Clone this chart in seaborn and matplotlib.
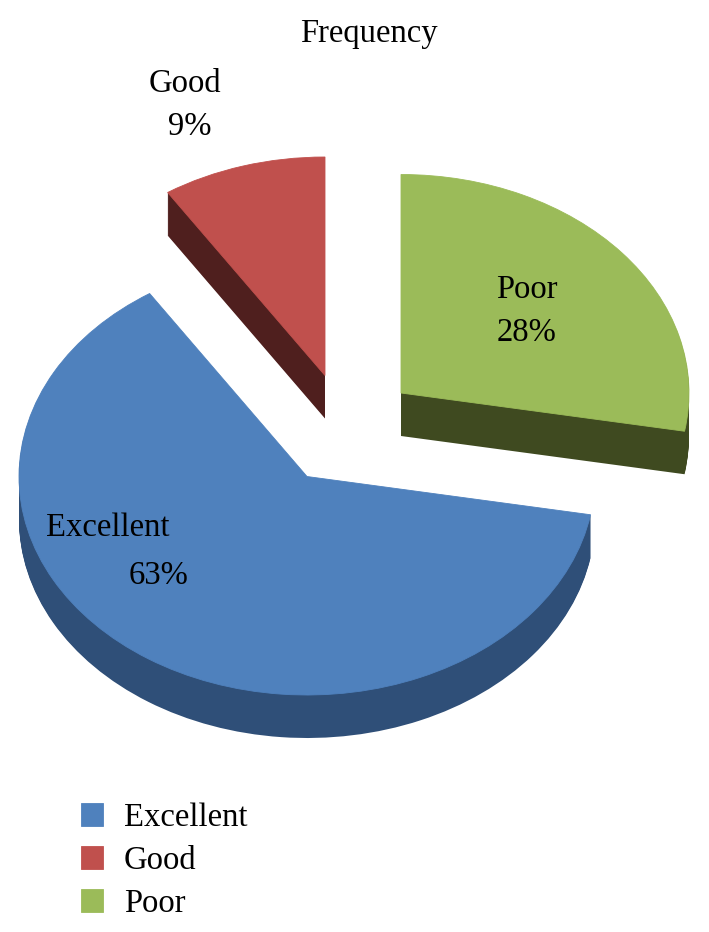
import matplotlib
matplotlib.use("Agg")
import matplotlib.pyplot as plt
import seaborn as sns

categories = ["Excellent", "Good", "Poor"]
percent = [63.0, 9.2, 27.8]
title = "Frequency"

top_colors = ["#4F81BD", "#C0504D", "#9BBB59"]
wall_colors = ["#2F4F78", "#4F1F1E", "#3F4A20"]

W, H = 709, 932
RX, RY = 288.0, 218.5
centers_px = [(307, 476.5), (325, 375.5), (401, 393)]
DEPTH = 43
FIRST_START = 90 - percent[2] * 3.6

sns.set_theme(style="white")
plt.rcParams["font.family"] = ["Liberation Serif", "DejaVu Serif"]
FS = 23.5

fig = plt.figure(figsize=(W / 100, H / 100), dpi=100)
ax = fig.add_axes([0, 0, 1, 1])

def X(px):
    return px / RX

def Y(py):
    return -py / RY

handles = []
start = FIRST_START
for cat, pct, top, wall, (cx, cy) in zip(categories, percent, top_colors, wall_colors, centers_px):
    for d in range(DEPTH, 0, -1):
        ax.pie([pct / 100], normalize=False, startangle=start, counterclock=False,
               center=(X(cx), Y(cy + d)), radius=1, colors=[wall],
               wedgeprops=dict(linewidth=0))
    w, _ = ax.pie([pct / 100], normalize=False, startangle=start, counterclock=False,
                  center=(X(cx), Y(cy)), radius=1, colors=[top],
                  wedgeprops=dict(linewidth=0.6, edgecolor=top))
    handles.append(w[0])
    start -= pct / 100 * 360

ax.set_aspect("auto")
ax.set_xlim(0, W / RX)
ax.set_ylim(-H / RY, 0)
ax.axis("off")

def put(px, py, s):
    ax.text(X(px), Y(py + 3), s, ha="center", va="center", fontsize=FS, color="black")

put(369, 31, title)
put(185, 81, categories[1])
put(190, 124, f"{percent[1]:.0f}%")
put(527, 287, categories[2])
put(527, 330, f"{percent[2]:.0f}%")
put(108, 525, categories[0])
put(159, 573, f"{percent[0]:.0f}%")

ax.legend(handles, categories, loc="upper left", bbox_to_anchor=(X(80) / (W / RX) - 0.012, 1 - 793.5 / H),
          frameon=False, fontsize=FS, labelcolor="black", handlelength=0.7, handleheight=0.7,
          labelspacing=0.38, handletextpad=0.62, borderpad=0.28, borderaxespad=0)

fig.savefig("out.png", dpi=100)
